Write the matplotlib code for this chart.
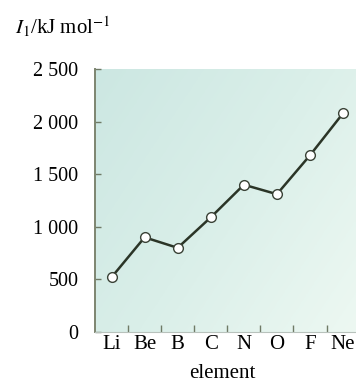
import numpy as np
import matplotlib
matplotlib.use("Agg")
import matplotlib.pyplot as plt
from matplotlib.colors import LinearSegmentedColormap

plt.rcParams['font.family'] = ['Liberation Serif', 'DejaVu Serif']
plt.rcParams['mathtext.fontset'] = 'stix'

# First ionisation energies of the period-2 elements
elements = ["Li", "Be", "B", "C", "N", "O", "F", "Ne"]
ionisation_energy = [520, 900, 800, 1090, 1400, 1310, 1680, 2080]
y_ticks = [0, 500, 1000, 1500, 2000, 2500]
y_tick_labels = ["0", "500", "1 000", "1 500", "2 000", "2 500"]

fig = plt.figure(figsize=(3.56, 3.91), dpi=100)
ax = fig.add_axes([95 / 356, 1 - 332 / 391, 261 / 356, 263 / 391])

x = np.arange(len(elements))
xmin, xmax = -0.5, 7.39
ax.set_xlim(xmin, xmax)

# soft blue-green gradient behind the plot, darker at the top left
cmap = LinearSegmentedColormap.from_list("bg", ["#cce7e2", "#daefe9", "#edf8f2"])
gx, gy = np.meshgrid(np.linspace(0, 1, 200), np.linspace(0, 1, 200))
grad = gx * 0.6 + gy * 0.4
ax.imshow(grad, cmap=cmap, extent=[xmin, xmax, 0, 2500], origin='upper',
          aspect='auto', zorder=0, interpolation='bilinear')
ax.set_ylim(0, 2500)

ax.plot(x, ionisation_energy, color="#2b3527", lw=1.8, zorder=2,
        marker="o", markersize=7, markerfacecolor="white",
        markeredgecolor="#3a4236", markeredgewidth=1.0)

for side in ["top", "right"]:
    ax.spines[side].set_visible(False)
ax.spines["left"].set_color("#7d8570")
ax.spines["left"].set_linewidth(1.4)
ax.spines["bottom"].set_color("#b8c2bc")
ax.spines["bottom"].set_linewidth(0.8)

ax.set_yticks(y_ticks)
ax.set_yticklabels(y_tick_labels, fontsize=14.5)
ax.tick_params(axis='y', direction='in', length=4, width=1.0, color="#6f7a66", pad=12)

ax.set_xticks(x)
ax.set_xticklabels(elements, fontsize=15)
ax.tick_params(axis='x', which='major', length=0, pad=2)
ax.set_xticks(x[:-1] + 0.5, minor=True)
ax.tick_params(axis='x', which='minor', direction='in', length=5, width=1.0, color="#6f7a66")

ax.set_xlabel("element", fontsize=15)
ax.xaxis.set_label_coords((222 - 95) / 261, -(378 - 332) / 263)
ax.xaxis.label.set_va('baseline')

fig.text(15 / 356, 1 - 34 / 391, r"$I_1$/kJ mol$^{-1}$", fontsize=15, ha='left', va='baseline')

fig.savefig("out.png", dpi=100)
